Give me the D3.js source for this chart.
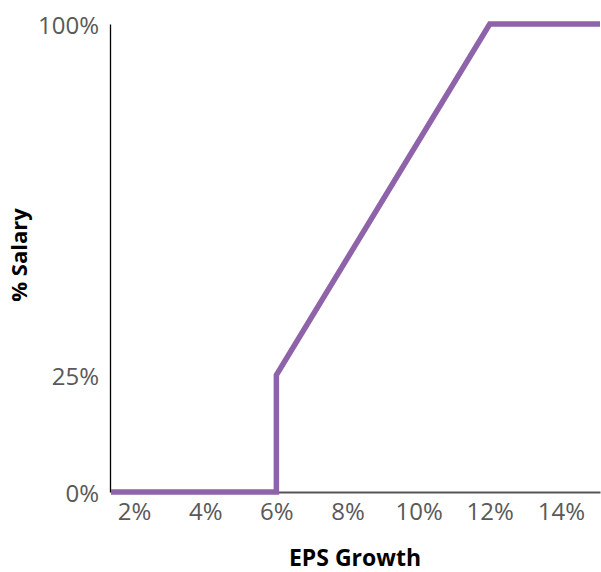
<!DOCTYPE html>
<html><head><meta charset="utf-8">
<script src="https://cdn.jsdelivr.net/npm/d3@7"></script>
<style>
body{margin:0;background:#fff;}
svg{display:block;}
</style></head>
<body>
<svg id="chart" width="601" height="572"></svg>
<script>
// Data
const epsGrowth = [1.35, 6, 6, 12, 15.1];   // x values (%)
const salaryPct = [0, 0, 25, 100, 100];      // y values (%)
const xTicks = [2, 4, 6, 8, 10, 12, 14];
const yTicks = [0, 25, 100];
const xTitle = "EPS Growth";
const yTitle = "% Salary";

const svg = d3.select("#chart");
const font = "'Open Sans', sans-serif";

const x = d3.scaleLinear().domain([1.35, 15.1]).range([111, 600]);
const y = d3.scaleLinear().domain([0, 100]).range([492, 24]);

// Y axis
const yAxis = svg.append("g").attr("transform", "translate(110,0)")
  .call(d3.axisLeft(y).tickValues(yTicks).tickSize(0).tickPadding(11).tickFormat(d => d + "%"));
yAxis.select(".domain").attr("stroke", "#000").attr("stroke-width", 1.3);
yAxis.selectAll("text").attr("font-family", font).attr("font-size", 24).attr("fill", "#595959").attr("dy", "0.4em");

// X axis
const xAxis = svg.append("g").attr("transform", "translate(0,492)")
  .call(d3.axisBottom(x).tickValues(xTicks).tickSize(0).tickPadding(11).tickFormat(d => d + "%"));
xAxis.select(".domain").attr("stroke", "#555").attr("stroke-width", 2);
xAxis.selectAll("text").attr("font-family", font).attr("font-size", 24).attr("fill", "#595959");

// Line
const pts = epsGrowth.map((v, i) => [v, salaryPct[i]]);
svg.append("path").datum(pts)
  .attr("d", d3.line().x(d => x(d[0])).y(d => y(d[1])))
  .attr("fill", "none").attr("stroke", "#8e63a9").attr("stroke-width", 5.5)
  .attr("stroke-linejoin", "miter");

// Titles
svg.append("text").attr("x", 355).attr("y", 566).attr("text-anchor", "middle")
  .attr("font-family", font).attr("font-weight", "bold").attr("font-size", 23).attr("fill", "#000").text(xTitle);
svg.append("text").attr("transform", "translate(27,255) rotate(-90)").attr("text-anchor", "middle")
  .attr("font-family", font).attr("font-weight", "bold").attr("font-size", 22).attr("fill", "#000").text(yTitle);
</script>
</body></html>
